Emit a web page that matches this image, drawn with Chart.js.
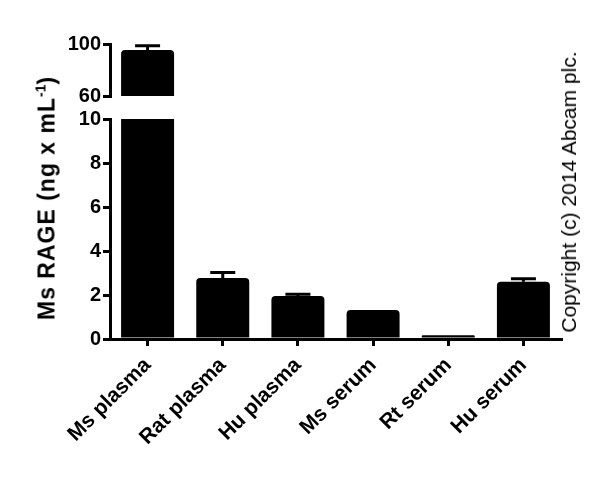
<!DOCTYPE html>
<html>
<head>
<meta charset="utf-8">
<script src="https://cdn.jsdelivr.net/npm/chart.js@4.4.1/dist/chart.umd.min.js"></script>
<style>
  html, body { margin: 0; padding: 0; background: #fff; }
  #wrap { position: relative; width: 600px; height: 477px; overflow: hidden; }
  #wrap canvas { position: absolute; left: 0; top: 0; }
  .rot { position: absolute; white-space: nowrap; color: #000;
         transform: translate(-50%, -50%) rotate(-90deg); line-height: 1; }
  #ytitle { left: 47px; top: 198px; font: bold 23px "Liberation Sans", Arial, sans-serif; letter-spacing: 1px; }
  #ytitle sup { font-size: 14px; vertical-align: 9px; line-height: 0; letter-spacing: 0; }
  #copy { left: 569px; top: 192px; font: normal 21px "Liberation Sans", Arial, sans-serif; }
</style>
</head>
<body>
<div id="wrap">
  <canvas id="low" width="600" height="477"></canvas>
  <canvas id="high" width="600" height="477"></canvas>
  <div id="ytitle" class="rot">Ms RAGE (ng x mL<sup>-1</sup>)</div>
  <div id="copy" class="rot">Copyright (c) 2014 Abcam plc.</div>
</div>
<script>
// ---- data ----
const categories = ['Ms plasma', 'Rat plasma', 'Hu plasma', 'Ms serum', 'Rt serum', 'Hu serum'];
const means  = [95.4, 2.77, 1.95, 1.32, 0.17, 2.60];
const errors = [3.3, 0.25, 0.08, 0, 0, 0.14];
const lowTicks  = [0, 2, 4, 6, 8, 10];
const highTicks = [60, 100];
const lowRange  = [0, 10];
const highRange = [60, 100];

const FONT = '"Liberation Sans", Arial, sans-serif';
const W = 600, H = 477;
const PLOT_LEFT = 110, PLOT_RIGHT = 561;
const LOW_TOP = 119, LOW_BOTTOM = 339;
const HIGH_TOP = 44, HIGH_BOTTOM = 96;

const errorBars = {
  id: 'errorBars',
  afterDatasetsDraw(chart) {
    const ctx = chart.ctx, meta = chart.getDatasetMeta(0), ys = chart.scales.y;
    ctx.save();
    ctx.strokeStyle = '#000';
    ctx.lineWidth = 3;
    meta.data.forEach((bar, i) => {
      const v = chart.data.datasets[0].data[i];
      const e = errors[i];
      if (v == null || !e || v < ys.min || v + e > ys.max) return;
      const x = bar.x, y0 = ys.getPixelForValue(v), y1 = ys.getPixelForValue(v + e);
      ctx.beginPath();
      ctx.moveTo(x, y0); ctx.lineTo(x, y1);
      ctx.moveTo(x - 12.5, y1); ctx.lineTo(x + 12.5, y1);
      ctx.stroke();
    });
    ctx.restore();
  }
};

function axisCommon() {
  return {
    grid: { display: true, drawOnChartArea: false, drawTicks: true, tickLength: 7,
            lineWidth: 3, color: '#000', offset: false },
    border: { display: true, width: 3, color: '#000' }
  };
}

function makeChart(id, range, ticks, top, bottom, showX) {
  const data = means.map(v => (v >= range[0] ? v : null));
  const yAxis = Object.assign(axisCommon(), {
    min: range[0], max: range[1],
    ticks: { color: '#000', padding: 2, font: { family: FONT, size: 20, weight: 'bold' } },
    afterBuildTicks(s) { s.ticks = ticks.map(v => ({ value: v })); },
    afterFit(s) { s.width = PLOT_LEFT; }
  });
  const xAxis = Object.assign(axisCommon(), {
    type: 'category', offset: true, display: showX,
    ticks: { color: '#000', padding: 7, autoSkip: false, minRotation: 45, maxRotation: 45,
             font: { family: FONT, size: 21, weight: 'bold' } },
    afterFit(s) { s.height = showX ? H - bottom : 0; }
  });
  return new Chart(document.getElementById(id), {
    type: 'bar',
    data: {
      labels: categories,
      datasets: [{
        data: data,
        backgroundColor: '#000',
        borderWidth: 0,
        borderRadius: 4,
        categoryPercentage: 0.705,
        barPercentage: 1.0,
        clip: 0
      }]
    },
    options: {
      responsive: false,
      animation: false,
      devicePixelRatio: 1,
      layout: { padding: { left: 0, right: W - PLOT_RIGHT, top: top, bottom: showX ? 0 : H - bottom } },
      plugins: { legend: { display: false }, tooltip: { enabled: false }, title: { display: false } },
      scales: { x: xAxis, y: yAxis }
    },
    plugins: [errorBars]
  });
}

makeChart('low', lowRange, lowTicks, LOW_TOP, LOW_BOTTOM, true);
makeChart('high', highRange, highTicks, HIGH_TOP, HIGH_BOTTOM, false);
</script>
</body>
</html>
